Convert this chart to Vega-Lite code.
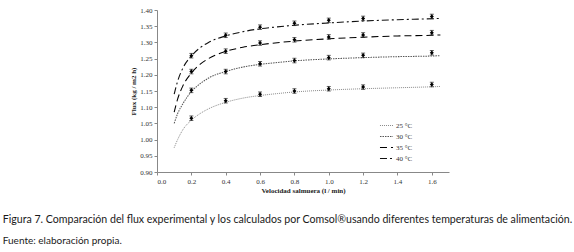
{
  "$schema": "https://vega.github.io/schema/vega-lite/v6.json",
  "width": 292,
  "height": 162,
  "autosize": {"type": "none"},
  "padding": {"left": 157, "top": 10, "right": 125, "bottom": 80},
  "background": "#ffffff",
  "config": {
    "view": {"stroke": null},
    "axis": {
      "labelFont": "Liberation Serif",
      "labelFontSize": 7,
      "labelColor": "#333333",
      "titleFont": "Liberation Serif",
      "titleFontSize": 7,
      "titleFontWeight": "bold",
      "titleColor": "#222222",
      "domainColor": "#888888",
      "tickColor": "#888888",
      "tickSize": 3,
      "grid": false
    },
    "legend": {
      "labelFont": "Liberation Serif",
      "labelFontSize": 7,
      "labelColor": "#333333"
    }
  },
  "title": {
    "text": "Figura 7. Comparación del flux experimental y los calculados por Comsol®usando diferentes temperaturas de alimentación.",
    "subtitle": "Fuente: elaboración propia.",
    "orient": "bottom",
    "anchor": "start",
    "dx": -127,
    "offset": 22,
    "font": "Lato",
    "fontSize": 10.6,
    "fontWeight": "normal",
    "color": "#1a1a1a",
    "subtitleFont": "Lato",
    "subtitleFontSize": 10,
    "subtitleColor": "#1a1a1a",
    "subtitlePadding": 10
  },
  "datasets": {
    "curve": [
      {"v": 0.1, "flux": 0.975, "serie": "25 °C"},
      {"v": 0.12, "flux": 1.0, "serie": "25 °C"},
      {"v": 0.15, "flux": 1.03, "serie": "25 °C"},
      {"v": 0.2, "flux": 1.06, "serie": "25 °C"},
      {"v": 0.25, "flux": 1.08, "serie": "25 °C"},
      {"v": 0.3, "flux": 1.095, "serie": "25 °C"},
      {"v": 0.4, "flux": 1.115, "serie": "25 °C"},
      {"v": 0.5, "flux": 1.128, "serie": "25 °C"},
      {"v": 0.6, "flux": 1.136, "serie": "25 °C"},
      {"v": 0.7, "flux": 1.142, "serie": "25 °C"},
      {"v": 0.8, "flux": 1.147, "serie": "25 °C"},
      {"v": 1.0, "flux": 1.153, "serie": "25 °C"},
      {"v": 1.2, "flux": 1.157, "serie": "25 °C"},
      {"v": 1.4, "flux": 1.16, "serie": "25 °C"},
      {"v": 1.6, "flux": 1.163, "serie": "25 °C"},
      {"v": 1.65, "flux": 1.164, "serie": "25 °C"},
      {"v": 0.1, "flux": 1.05, "serie": "30 °C"},
      {"v": 0.12, "flux": 1.08, "serie": "30 °C"},
      {"v": 0.15, "flux": 1.11, "serie": "30 °C"},
      {"v": 0.2, "flux": 1.148, "serie": "30 °C"},
      {"v": 0.25, "flux": 1.172, "serie": "30 °C"},
      {"v": 0.3, "flux": 1.19, "serie": "30 °C"},
      {"v": 0.4, "flux": 1.21, "serie": "30 °C"},
      {"v": 0.5, "flux": 1.224, "serie": "30 °C"},
      {"v": 0.6, "flux": 1.232, "serie": "30 °C"},
      {"v": 0.7, "flux": 1.238, "serie": "30 °C"},
      {"v": 0.8, "flux": 1.243, "serie": "30 °C"},
      {"v": 1.0, "flux": 1.249, "serie": "30 °C"},
      {"v": 1.2, "flux": 1.253, "serie": "30 °C"},
      {"v": 1.4, "flux": 1.256, "serie": "30 °C"},
      {"v": 1.6, "flux": 1.258, "serie": "30 °C"},
      {"v": 1.65, "flux": 1.259, "serie": "30 °C"},
      {"v": 0.1, "flux": 1.085, "serie": "35 °C"},
      {"v": 0.12, "flux": 1.125, "serie": "35 °C"},
      {"v": 0.15, "flux": 1.165, "serie": "35 °C"},
      {"v": 0.2, "flux": 1.205, "serie": "35 °C"},
      {"v": 0.25, "flux": 1.232, "serie": "35 °C"},
      {"v": 0.3, "flux": 1.25, "serie": "35 °C"},
      {"v": 0.4, "flux": 1.272, "serie": "35 °C"},
      {"v": 0.5, "flux": 1.285, "serie": "35 °C"},
      {"v": 0.6, "flux": 1.293, "serie": "35 °C"},
      {"v": 0.7, "flux": 1.299, "serie": "35 °C"},
      {"v": 0.8, "flux": 1.304, "serie": "35 °C"},
      {"v": 1.0, "flux": 1.311, "serie": "35 °C"},
      {"v": 1.2, "flux": 1.316, "serie": "35 °C"},
      {"v": 1.4, "flux": 1.32, "serie": "35 °C"},
      {"v": 1.6, "flux": 1.322, "serie": "35 °C"},
      {"v": 1.65, "flux": 1.323, "serie": "35 °C"},
      {"v": 0.1, "flux": 1.14, "serie": "40 °C"},
      {"v": 0.12, "flux": 1.18, "serie": "40 °C"},
      {"v": 0.15, "flux": 1.22, "serie": "40 °C"},
      {"v": 0.2, "flux": 1.258, "serie": "40 °C"},
      {"v": 0.25, "flux": 1.283, "serie": "40 °C"},
      {"v": 0.3, "flux": 1.3, "serie": "40 °C"},
      {"v": 0.4, "flux": 1.32, "serie": "40 °C"},
      {"v": 0.5, "flux": 1.333, "serie": "40 °C"},
      {"v": 0.6, "flux": 1.342, "serie": "40 °C"},
      {"v": 0.7, "flux": 1.348, "serie": "40 °C"},
      {"v": 0.8, "flux": 1.353, "serie": "40 °C"},
      {"v": 1.0, "flux": 1.36, "serie": "40 °C"},
      {"v": 1.2, "flux": 1.366, "serie": "40 °C"},
      {"v": 1.4, "flux": 1.37, "serie": "40 °C"},
      {"v": 1.6, "flux": 1.373, "serie": "40 °C"},
      {"v": 1.65, "flux": 1.374, "serie": "40 °C"}
    ],
    "exp": [
      {"v": 0.2, "flux": 1.066, "err": 0.007, "serie": "25 °C"},
      {"v": 0.4, "flux": 1.12, "err": 0.007, "serie": "25 °C"},
      {"v": 0.6, "flux": 1.14, "err": 0.007, "serie": "25 °C"},
      {"v": 0.8, "flux": 1.15, "err": 0.007, "serie": "25 °C"},
      {"v": 1.0, "flux": 1.157, "err": 0.007, "serie": "25 °C"},
      {"v": 1.2, "flux": 1.162, "err": 0.007, "serie": "25 °C"},
      {"v": 1.6, "flux": 1.17, "err": 0.007, "serie": "25 °C"},
      {"v": 0.2, "flux": 1.152, "err": 0.007, "serie": "30 °C"},
      {"v": 0.4, "flux": 1.21, "err": 0.007, "serie": "30 °C"},
      {"v": 0.6, "flux": 1.234, "err": 0.007, "serie": "30 °C"},
      {"v": 0.8, "flux": 1.244, "err": 0.007, "serie": "30 °C"},
      {"v": 1.0, "flux": 1.253, "err": 0.007, "serie": "30 °C"},
      {"v": 1.2, "flux": 1.26, "err": 0.007, "serie": "30 °C"},
      {"v": 1.6, "flux": 1.268, "err": 0.007, "serie": "30 °C"},
      {"v": 0.2, "flux": 1.21, "err": 0.007, "serie": "35 °C"},
      {"v": 0.4, "flux": 1.273, "err": 0.007, "serie": "35 °C"},
      {"v": 0.6, "flux": 1.298, "err": 0.007, "serie": "35 °C"},
      {"v": 0.8, "flux": 1.308, "err": 0.007, "serie": "35 °C"},
      {"v": 1.0, "flux": 1.317, "err": 0.007, "serie": "35 °C"},
      {"v": 1.2, "flux": 1.323, "err": 0.007, "serie": "35 °C"},
      {"v": 1.6, "flux": 1.33, "err": 0.007, "serie": "35 °C"},
      {"v": 0.2, "flux": 1.259, "err": 0.007, "serie": "40 °C"},
      {"v": 0.4, "flux": 1.322, "err": 0.007, "serie": "40 °C"},
      {"v": 0.6, "flux": 1.347, "err": 0.007, "serie": "40 °C"},
      {"v": 0.8, "flux": 1.359, "err": 0.007, "serie": "40 °C"},
      {"v": 1.0, "flux": 1.368, "err": 0.007, "serie": "40 °C"},
      {"v": 1.2, "flux": 1.374, "err": 0.007, "serie": "40 °C"},
      {"v": 1.6, "flux": 1.38, "err": 0.007, "serie": "40 °C"}
    ]
  },
  "encoding": {
    "x": {
      "field": "v",
      "type": "quantitative",
      "scale": {"domain": [0, 1.7], "nice": false, "zero": false},
      "axis": {
        "title": "Velocidad salmuera (l / min)",
        "values": [0, 0.2, 0.4, 0.6, 0.8, 1.0, 1.2, 1.4, 1.6],
        "format": ".1f",
        "labelPadding": 2,
        "titlePadding": 2
      }
    },
    "y": {
      "field": "flux",
      "type": "quantitative",
      "scale": {"domain": [0.9, 1.4], "nice": false, "zero": false},
      "axis": {
        "title": "Flux (kg / m2 h)",
        "values": [0.9, 0.95, 1.0, 1.05, 1.1, 1.15, 1.2, 1.25, 1.3, 1.35, 1.4],
        "format": ".2f",
        "labelPadding": 2,
        "titlePadding": 3
      }
    }
  },
  "layer": [
    {
      "data": {"name": "curve"},
      "mark": {"type": "line", "interpolate": "monotone"},
      "encoding": {
        "detail": {"field": "serie", "type": "nominal"},
        "color": {
          "field": "serie",
          "type": "nominal",
          "scale": {"domain": ["25 °C", "30 °C", "35 °C", "40 °C"], "range": ["#8a8a8a", "#555555", "#000000", "#111111"]},
          "legend": {
            "title": null,
            "orient": "none",
            "legendX": 222,
            "legendY": 108,
            "symbolType": "stroke",
            "symbolSize": 170,
            "labelOffset": 2,
            "rowPadding": -1.5
          }
        },
        "strokeDash": {
          "field": "serie",
          "type": "nominal",
          "scale": {"domain": ["25 °C", "30 °C", "35 °C", "40 °C"], "range": [[1, 1], [1.5, 1], [7, 4], [7, 3, 2, 3]]},
          "legend": {"title": null}
        },
        "strokeWidth": {
          "field": "serie",
          "type": "nominal",
          "scale": {"domain": ["25 °C", "30 °C", "35 °C", "40 °C"], "range": [1, 1.1, 2.2, 1.8]},
          "legend": {"title": null}
        }
      }
    },
    {
      "data": {"name": "exp"},
      "mark": {"type": "errorbar", "ticks": {"size": 4}, "color": "#222222", "thickness": 1},
      "encoding": {
        "yError": {"field": "err"}
      }
    },
    {
      "data": {"name": "exp"},
      "mark": {"type": "point", "shape": "diamond", "filled": true, "color": "#000000", "size": 16, "opacity": 1},
      "encoding": {}
    }
  ]
}
